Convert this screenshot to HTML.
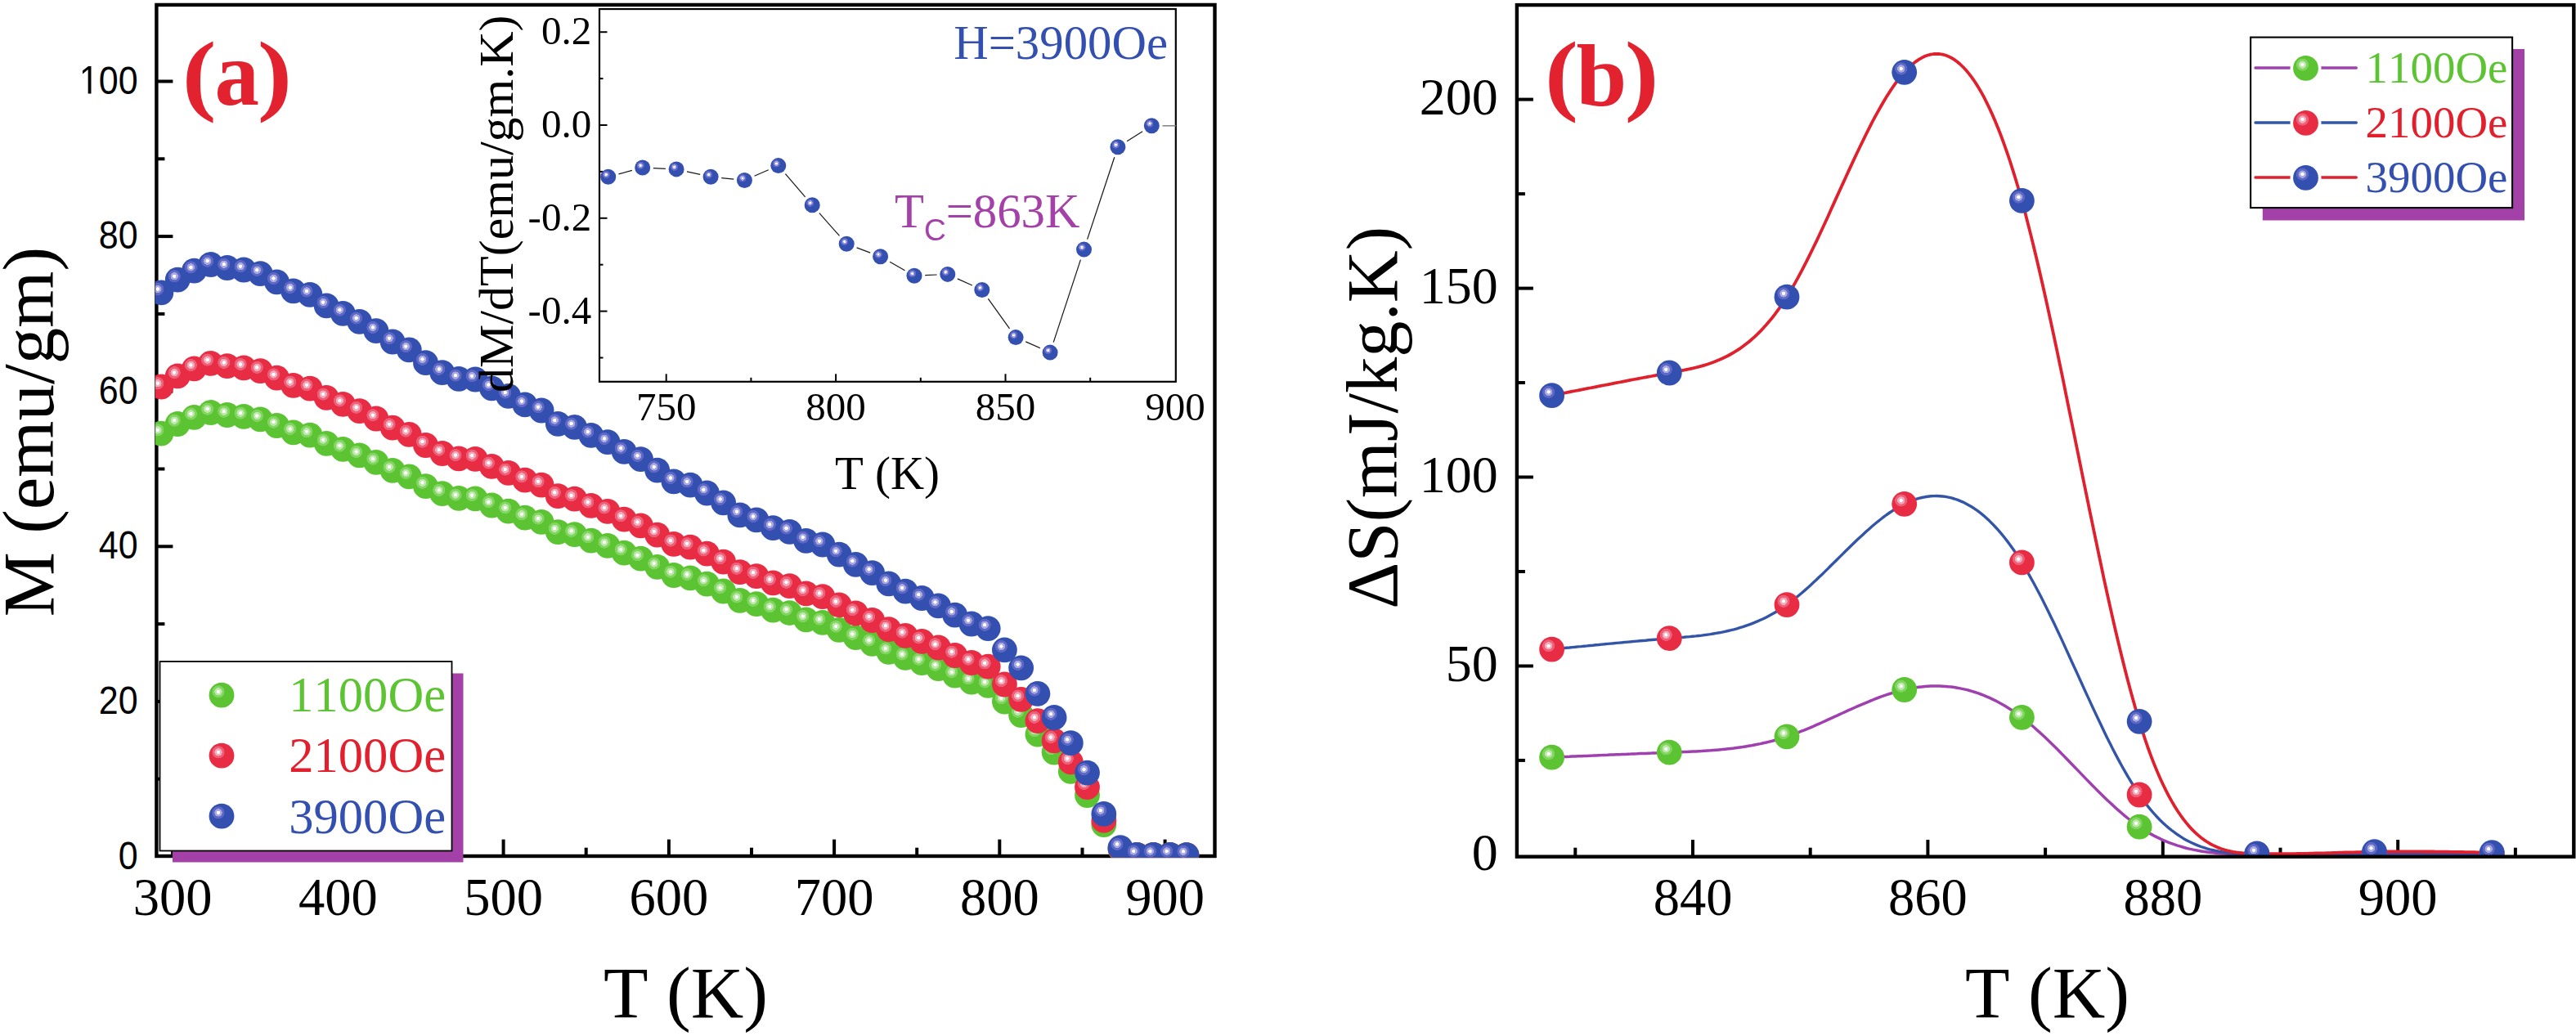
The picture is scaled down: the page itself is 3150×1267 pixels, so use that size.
<!DOCTYPE html>
<html><head><meta charset="utf-8"><title>chart</title>
<style>html,body{margin:0;padding:0;background:#fff;}svg{display:block;}text{font-kerning:none;}</style></head>
<body>
<svg width="3150" height="1267" viewBox="0 0 3150 1267">
<defs>
<radialGradient id="gb" cx="0.37" cy="0.36" r="0.5" fx="0.37" fy="0.36" gradientUnits="objectBoundingBox">
<stop offset="0" stop-color="#ffffff"/><stop offset="0.13" stop-color="#ffffff"/>
<stop offset="0.15" stop-color="#aaaae2"/><stop offset="0.29" stop-color="#aaaae2"/>
<stop offset="0.31" stop-color="#6068c6"/><stop offset="0.47" stop-color="#6068c6"/>
<stop offset="0.50" stop-color="#3350b0"/><stop offset="1" stop-color="#3350b0"/>
</radialGradient>
<radialGradient id="gr" cx="0.37" cy="0.36" r="0.5" fx="0.37" fy="0.36" gradientUnits="objectBoundingBox">
<stop offset="0" stop-color="#ffffff"/><stop offset="0.13" stop-color="#ffffff"/>
<stop offset="0.15" stop-color="#f5aaba"/><stop offset="0.29" stop-color="#f5aaba"/>
<stop offset="0.31" stop-color="#ec6079"/><stop offset="0.47" stop-color="#ec6079"/>
<stop offset="0.50" stop-color="#e82c44"/><stop offset="1" stop-color="#e82c44"/>
</radialGradient>
<radialGradient id="gg" cx="0.37" cy="0.36" r="0.5" fx="0.37" fy="0.36" gradientUnits="objectBoundingBox">
<stop offset="0" stop-color="#ffffff"/><stop offset="0.13" stop-color="#ffffff"/>
<stop offset="0.15" stop-color="#bce9a8"/><stop offset="0.29" stop-color="#bce9a8"/>
<stop offset="0.31" stop-color="#82d562"/><stop offset="0.47" stop-color="#82d562"/>
<stop offset="0.50" stop-color="#5cc432"/><stop offset="1" stop-color="#5cc432"/>
</radialGradient>
<clipPath id="clipA"><rect x="189.8" y="0" width="1305" height="1048.8"/></clipPath>
<clipPath id="clipB"><rect x="1853" y="0" width="1297" height="1046"/></clipPath>
<clipPath id="clipI"><rect x="733" y="9" width="704" height="456"/></clipPath>
</defs>
<rect width="3150" height="1267" fill="#ffffff"/>
<rect x="191.4" y="5.95" width="1294.1" height="1041.05" fill="none" stroke="#000" stroke-width="4.4"/>
<line x1="191.4" y1="952.7" x2="201.4" y2="952.7" stroke="#000" stroke-width="4"/>
<line x1="191.4" y1="857.9" x2="211.4" y2="857.9" stroke="#000" stroke-width="4"/>
<line x1="191.4" y1="763.1" x2="201.4" y2="763.1" stroke="#000" stroke-width="4"/>
<line x1="191.4" y1="668.3" x2="211.4" y2="668.3" stroke="#000" stroke-width="4"/>
<line x1="191.4" y1="573.5" x2="201.4" y2="573.5" stroke="#000" stroke-width="4"/>
<line x1="191.4" y1="478.7" x2="211.4" y2="478.7" stroke="#000" stroke-width="4"/>
<line x1="191.4" y1="383.9" x2="201.4" y2="383.9" stroke="#000" stroke-width="4"/>
<line x1="191.4" y1="289.1" x2="211.4" y2="289.1" stroke="#000" stroke-width="4"/>
<line x1="191.4" y1="194.3" x2="201.4" y2="194.3" stroke="#000" stroke-width="4"/>
<line x1="191.4" y1="99.5" x2="211.4" y2="99.5" stroke="#000" stroke-width="4"/>
<g transform="translate(168.6,1062.5) scale(1,1.134)"><text x="0" y="0" font-family='"Liberation Sans", sans-serif' font-size="43" fill="#000" text-anchor="end" font-weight="normal" >0</text></g>
<g transform="translate(168.6,872.9) scale(1,1.134)"><text x="0" y="0" font-family='"Liberation Sans", sans-serif' font-size="43" fill="#000" text-anchor="end" font-weight="normal" >20</text></g>
<g transform="translate(168.6,683.3) scale(1,1.134)"><text x="0" y="0" font-family='"Liberation Sans", sans-serif' font-size="43" fill="#000" text-anchor="end" font-weight="normal" >40</text></g>
<g transform="translate(168.6,493.7) scale(1,1.134)"><text x="0" y="0" font-family='"Liberation Sans", sans-serif' font-size="43" fill="#000" text-anchor="end" font-weight="normal" >60</text></g>
<g transform="translate(168.6,304.1) scale(1,1.134)"><text x="0" y="0" font-family='"Liberation Sans", sans-serif' font-size="43" fill="#000" text-anchor="end" font-weight="normal" >80</text></g>
<path transform="translate(96.86,114.5) scale(0.02100,-0.02381)" d="M515 0V1237L197 1010V1180L530 1409H696V0Z" fill="#000"/>
<g transform="translate(168.6,114.5) scale(1,1.134)"><text x="0" y="0" font-family='"Liberation Sans", sans-serif' font-size="43" fill="#000" text-anchor="end" font-weight="normal" >00</text></g>
<line x1="211.1" y1="1047" x2="211.1" y2="1026.6" stroke="#000" stroke-width="4"/>
<line x1="312.2" y1="1047" x2="312.2" y2="1036.7" stroke="#000" stroke-width="4"/>
<line x1="413.4" y1="1047" x2="413.4" y2="1026.6" stroke="#000" stroke-width="4"/>
<line x1="514.5" y1="1047" x2="514.5" y2="1036.7" stroke="#000" stroke-width="4"/>
<line x1="615.6" y1="1047" x2="615.6" y2="1026.6" stroke="#000" stroke-width="4"/>
<line x1="716.7" y1="1047" x2="716.7" y2="1036.7" stroke="#000" stroke-width="4"/>
<line x1="817.9" y1="1047" x2="817.9" y2="1026.6" stroke="#000" stroke-width="4"/>
<line x1="919.0" y1="1047" x2="919.0" y2="1036.7" stroke="#000" stroke-width="4"/>
<line x1="1020.1" y1="1047" x2="1020.1" y2="1026.6" stroke="#000" stroke-width="4"/>
<line x1="1121.2" y1="1047" x2="1121.2" y2="1036.7" stroke="#000" stroke-width="4"/>
<line x1="1222.3" y1="1047" x2="1222.3" y2="1026.6" stroke="#000" stroke-width="4"/>
<line x1="1323.5" y1="1047" x2="1323.5" y2="1036.7" stroke="#000" stroke-width="4"/>
<line x1="1424.6" y1="1047" x2="1424.6" y2="1026.6" stroke="#000" stroke-width="4"/>
<text x="211.1" y="1118.5" font-family='"Liberation Serif", serif' font-size="64.5" fill="#000" text-anchor="middle" font-weight="normal" >300</text>
<text x="413.4" y="1118.5" font-family='"Liberation Serif", serif' font-size="64.5" fill="#000" text-anchor="middle" font-weight="normal" >400</text>
<text x="615.6" y="1118.5" font-family='"Liberation Serif", serif' font-size="64.5" fill="#000" text-anchor="middle" font-weight="normal" >500</text>
<text x="817.9" y="1118.5" font-family='"Liberation Serif", serif' font-size="64.5" fill="#000" text-anchor="middle" font-weight="normal" >600</text>
<text x="1020.1" y="1118.5" font-family='"Liberation Serif", serif' font-size="64.5" fill="#000" text-anchor="middle" font-weight="normal" >700</text>
<text x="1222.3" y="1118.5" font-family='"Liberation Serif", serif' font-size="64.5" fill="#000" text-anchor="middle" font-weight="normal" >800</text>
<text x="1424.6" y="1118.5" font-family='"Liberation Serif", serif' font-size="64.5" fill="#000" text-anchor="middle" font-weight="normal" >900</text>
<text x="838.5" y="1243.5" font-family='"Liberation Serif", serif' font-size="89.3" fill="#000" text-anchor="middle" font-weight="normal" >T (K)</text>
<g transform="translate(65,528) rotate(-90)"><text x="0" y="0" font-family='"Liberation Serif", serif' font-size="89" fill="#000" text-anchor="middle" font-weight="normal" >M (emu/gm)</text></g>
<text transform="matrix(1.25437 0 0 1.09421 222.67 127.45)" font-family='"Liberation Serif", serif' font-size="100" font-weight="bold" fill="#e2222e">(</text>
<text transform="matrix(1.08950 0 0 1.12500 262.56 128.18)" font-family='"Liberation Serif", serif' font-size="100" font-weight="bold" fill="#e2222e">a</text>
<text transform="matrix(1.27379 0 0 1.09421 314.66 127.45)" font-family='"Liberation Serif", serif' font-size="100" font-weight="bold" fill="#e2222e">)</text>
<g clip-path="url(#clipA)">
<circle cx="196.9" cy="530.2" r="15.4" fill="url(#gg)"/>
<circle cx="217.2" cy="518.5" r="15.4" fill="url(#gg)"/>
<circle cx="237.4" cy="510.3" r="15.4" fill="url(#gg)"/>
<circle cx="257.6" cy="504.5" r="15.4" fill="url(#gg)"/>
<circle cx="277.8" cy="507.5" r="15.4" fill="url(#gg)"/>
<circle cx="298.1" cy="509.4" r="15.4" fill="url(#gg)"/>
<circle cx="318.3" cy="512.8" r="15.4" fill="url(#gg)"/>
<circle cx="338.5" cy="520.5" r="15.4" fill="url(#gg)"/>
<circle cx="358.7" cy="528.8" r="15.4" fill="url(#gg)"/>
<circle cx="379.0" cy="532.1" r="15.4" fill="url(#gg)"/>
<circle cx="399.2" cy="542.3" r="15.4" fill="url(#gg)"/>
<circle cx="419.4" cy="549.4" r="15.4" fill="url(#gg)"/>
<circle cx="439.6" cy="556.8" r="15.4" fill="url(#gg)"/>
<circle cx="459.9" cy="565.4" r="15.4" fill="url(#gg)"/>
<circle cx="480.1" cy="575.4" r="15.4" fill="url(#gg)"/>
<circle cx="500.3" cy="582.8" r="15.4" fill="url(#gg)"/>
<circle cx="520.5" cy="594.7" r="15.4" fill="url(#gg)"/>
<circle cx="540.8" cy="603.7" r="15.4" fill="url(#gg)"/>
<circle cx="561.0" cy="609.4" r="15.4" fill="url(#gg)"/>
<circle cx="581.2" cy="609.9" r="15.4" fill="url(#gg)"/>
<circle cx="601.4" cy="618.0" r="15.4" fill="url(#gg)"/>
<circle cx="621.7" cy="625.2" r="15.4" fill="url(#gg)"/>
<circle cx="641.9" cy="633.1" r="15.4" fill="url(#gg)"/>
<circle cx="662.1" cy="638.4" r="15.4" fill="url(#gg)"/>
<circle cx="682.3" cy="650.6" r="15.4" fill="url(#gg)"/>
<circle cx="702.6" cy="653.7" r="15.4" fill="url(#gg)"/>
<circle cx="722.8" cy="661.1" r="15.4" fill="url(#gg)"/>
<circle cx="743.0" cy="667.4" r="15.4" fill="url(#gg)"/>
<circle cx="763.2" cy="676.2" r="15.4" fill="url(#gg)"/>
<circle cx="783.5" cy="683.1" r="15.4" fill="url(#gg)"/>
<circle cx="803.7" cy="693.3" r="15.4" fill="url(#gg)"/>
<circle cx="823.9" cy="703.5" r="15.4" fill="url(#gg)"/>
<circle cx="844.1" cy="706.8" r="15.4" fill="url(#gg)"/>
<circle cx="864.4" cy="714.1" r="15.4" fill="url(#gg)"/>
<circle cx="884.6" cy="723.0" r="15.4" fill="url(#gg)"/>
<circle cx="904.8" cy="734.3" r="15.4" fill="url(#gg)"/>
<circle cx="925.0" cy="738.7" r="15.4" fill="url(#gg)"/>
<circle cx="945.3" cy="746.1" r="15.4" fill="url(#gg)"/>
<circle cx="965.5" cy="749.6" r="15.4" fill="url(#gg)"/>
<circle cx="985.7" cy="757.9" r="15.4" fill="url(#gg)"/>
<circle cx="1005.9" cy="761.4" r="15.4" fill="url(#gg)"/>
<circle cx="1026.2" cy="770.4" r="15.4" fill="url(#gg)"/>
<circle cx="1046.4" cy="779.7" r="15.4" fill="url(#gg)"/>
<circle cx="1066.6" cy="787.3" r="15.4" fill="url(#gg)"/>
<circle cx="1086.8" cy="797.3" r="15.4" fill="url(#gg)"/>
<circle cx="1107.1" cy="804.3" r="15.4" fill="url(#gg)"/>
<circle cx="1127.3" cy="810.5" r="15.4" fill="url(#gg)"/>
<circle cx="1147.5" cy="817.5" r="15.4" fill="url(#gg)"/>
<circle cx="1167.7" cy="826.0" r="15.4" fill="url(#gg)"/>
<circle cx="1188.0" cy="834.1" r="15.4" fill="url(#gg)"/>
<circle cx="1208.2" cy="838.3" r="15.4" fill="url(#gg)"/>
<circle cx="1228.4" cy="858.0" r="15.4" fill="url(#gg)"/>
<circle cx="1248.6" cy="874.5" r="15.4" fill="url(#gg)"/>
<circle cx="1268.9" cy="898.1" r="15.4" fill="url(#gg)"/>
<circle cx="1289.1" cy="920.0" r="15.4" fill="url(#gg)"/>
<circle cx="1309.3" cy="943.4" r="15.4" fill="url(#gg)"/>
<circle cx="1329.5" cy="972.6" r="15.4" fill="url(#gg)"/>
<circle cx="1349.8" cy="1008.6" r="15.4" fill="url(#gg)"/>
<circle cx="1370.0" cy="1038.5" r="15.4" fill="url(#gg)"/>
<circle cx="1390.2" cy="1045.3" r="15.4" fill="url(#gg)"/>
<circle cx="1410.4" cy="1045.3" r="15.4" fill="url(#gg)"/>
<circle cx="1430.7" cy="1045.3" r="15.4" fill="url(#gg)"/>
<circle cx="1450.9" cy="1045.6" r="15.4" fill="url(#gg)"/>
<circle cx="196.9" cy="473.0" r="15.4" fill="url(#gr)"/>
<circle cx="217.2" cy="459.9" r="15.4" fill="url(#gr)"/>
<circle cx="237.4" cy="450.8" r="15.4" fill="url(#gr)"/>
<circle cx="257.6" cy="444.4" r="15.4" fill="url(#gr)"/>
<circle cx="277.8" cy="447.7" r="15.4" fill="url(#gr)"/>
<circle cx="298.1" cy="449.8" r="15.4" fill="url(#gr)"/>
<circle cx="318.3" cy="453.7" r="15.4" fill="url(#gr)"/>
<circle cx="338.5" cy="462.2" r="15.4" fill="url(#gr)"/>
<circle cx="358.7" cy="471.4" r="15.4" fill="url(#gr)"/>
<circle cx="379.0" cy="475.1" r="15.4" fill="url(#gr)"/>
<circle cx="399.2" cy="486.4" r="15.4" fill="url(#gr)"/>
<circle cx="419.4" cy="494.3" r="15.4" fill="url(#gr)"/>
<circle cx="439.6" cy="502.6" r="15.4" fill="url(#gr)"/>
<circle cx="459.9" cy="512.0" r="15.4" fill="url(#gr)"/>
<circle cx="480.1" cy="523.1" r="15.4" fill="url(#gr)"/>
<circle cx="500.3" cy="531.4" r="15.4" fill="url(#gr)"/>
<circle cx="520.5" cy="544.5" r="15.4" fill="url(#gr)"/>
<circle cx="540.8" cy="554.5" r="15.4" fill="url(#gr)"/>
<circle cx="561.0" cy="560.9" r="15.4" fill="url(#gr)"/>
<circle cx="581.2" cy="561.4" r="15.4" fill="url(#gr)"/>
<circle cx="601.4" cy="570.4" r="15.4" fill="url(#gr)"/>
<circle cx="621.7" cy="578.4" r="15.4" fill="url(#gr)"/>
<circle cx="641.9" cy="587.2" r="15.4" fill="url(#gr)"/>
<circle cx="662.1" cy="593.1" r="15.4" fill="url(#gr)"/>
<circle cx="682.3" cy="606.7" r="15.4" fill="url(#gr)"/>
<circle cx="702.6" cy="610.1" r="15.4" fill="url(#gr)"/>
<circle cx="722.8" cy="618.3" r="15.4" fill="url(#gr)"/>
<circle cx="743.0" cy="625.3" r="15.4" fill="url(#gr)"/>
<circle cx="763.2" cy="635.1" r="15.4" fill="url(#gr)"/>
<circle cx="783.5" cy="642.8" r="15.4" fill="url(#gr)"/>
<circle cx="803.7" cy="654.1" r="15.4" fill="url(#gr)"/>
<circle cx="823.9" cy="665.4" r="15.4" fill="url(#gr)"/>
<circle cx="844.1" cy="669.1" r="15.4" fill="url(#gr)"/>
<circle cx="864.4" cy="677.2" r="15.4" fill="url(#gr)"/>
<circle cx="884.6" cy="687.1" r="15.4" fill="url(#gr)"/>
<circle cx="904.8" cy="699.6" r="15.4" fill="url(#gr)"/>
<circle cx="925.0" cy="704.6" r="15.4" fill="url(#gr)"/>
<circle cx="945.3" cy="712.8" r="15.4" fill="url(#gr)"/>
<circle cx="965.5" cy="716.6" r="15.4" fill="url(#gr)"/>
<circle cx="985.7" cy="725.9" r="15.4" fill="url(#gr)"/>
<circle cx="1005.9" cy="729.7" r="15.4" fill="url(#gr)"/>
<circle cx="1026.2" cy="739.8" r="15.4" fill="url(#gr)"/>
<circle cx="1046.4" cy="750.0" r="15.4" fill="url(#gr)"/>
<circle cx="1066.6" cy="758.5" r="15.4" fill="url(#gr)"/>
<circle cx="1086.8" cy="769.6" r="15.4" fill="url(#gr)"/>
<circle cx="1107.1" cy="777.4" r="15.4" fill="url(#gr)"/>
<circle cx="1127.3" cy="784.3" r="15.4" fill="url(#gr)"/>
<circle cx="1147.5" cy="792.0" r="15.4" fill="url(#gr)"/>
<circle cx="1167.7" cy="801.5" r="15.4" fill="url(#gr)"/>
<circle cx="1188.0" cy="810.5" r="15.4" fill="url(#gr)"/>
<circle cx="1208.2" cy="815.2" r="15.4" fill="url(#gr)"/>
<circle cx="1228.4" cy="837.0" r="15.4" fill="url(#gr)"/>
<circle cx="1248.6" cy="855.3" r="15.4" fill="url(#gr)"/>
<circle cx="1268.9" cy="881.6" r="15.4" fill="url(#gr)"/>
<circle cx="1289.1" cy="905.9" r="15.4" fill="url(#gr)"/>
<circle cx="1309.3" cy="931.9" r="15.4" fill="url(#gr)"/>
<circle cx="1329.5" cy="962.7" r="15.4" fill="url(#gr)"/>
<circle cx="1349.8" cy="1003.4" r="15.4" fill="url(#gr)"/>
<circle cx="1370.0" cy="1038.0" r="15.4" fill="url(#gr)"/>
<circle cx="1390.2" cy="1045.3" r="15.4" fill="url(#gr)"/>
<circle cx="1410.4" cy="1045.3" r="15.4" fill="url(#gr)"/>
<circle cx="1430.7" cy="1045.3" r="15.4" fill="url(#gr)"/>
<circle cx="1450.9" cy="1045.6" r="15.4" fill="url(#gr)"/>
<circle cx="196.9" cy="357.8" r="15.4" fill="url(#gb)"/>
<circle cx="217.2" cy="342.1" r="15.4" fill="url(#gb)"/>
<circle cx="237.4" cy="331.2" r="15.4" fill="url(#gb)"/>
<circle cx="257.6" cy="323.5" r="15.4" fill="url(#gb)"/>
<circle cx="277.8" cy="327.5" r="15.4" fill="url(#gb)"/>
<circle cx="298.1" cy="330.0" r="15.4" fill="url(#gb)"/>
<circle cx="318.3" cy="334.6" r="15.4" fill="url(#gb)"/>
<circle cx="338.5" cy="344.8" r="15.4" fill="url(#gb)"/>
<circle cx="358.7" cy="355.9" r="15.4" fill="url(#gb)"/>
<circle cx="379.0" cy="360.3" r="15.4" fill="url(#gb)"/>
<circle cx="399.2" cy="373.9" r="15.4" fill="url(#gb)"/>
<circle cx="419.4" cy="383.4" r="15.4" fill="url(#gb)"/>
<circle cx="439.6" cy="393.3" r="15.4" fill="url(#gb)"/>
<circle cx="459.9" cy="404.7" r="15.4" fill="url(#gb)"/>
<circle cx="480.1" cy="418.0" r="15.4" fill="url(#gb)"/>
<circle cx="500.3" cy="427.9" r="15.4" fill="url(#gb)"/>
<circle cx="520.5" cy="443.7" r="15.4" fill="url(#gb)"/>
<circle cx="540.8" cy="455.7" r="15.4" fill="url(#gb)"/>
<circle cx="561.0" cy="463.4" r="15.4" fill="url(#gb)"/>
<circle cx="581.2" cy="464.0" r="15.4" fill="url(#gb)"/>
<circle cx="601.4" cy="474.8" r="15.4" fill="url(#gb)"/>
<circle cx="621.7" cy="484.4" r="15.4" fill="url(#gb)"/>
<circle cx="641.9" cy="494.9" r="15.4" fill="url(#gb)"/>
<circle cx="662.1" cy="502.0" r="15.4" fill="url(#gb)"/>
<circle cx="682.3" cy="518.3" r="15.4" fill="url(#gb)"/>
<circle cx="702.6" cy="522.4" r="15.4" fill="url(#gb)"/>
<circle cx="722.8" cy="532.3" r="15.4" fill="url(#gb)"/>
<circle cx="743.0" cy="540.7" r="15.4" fill="url(#gb)"/>
<circle cx="763.2" cy="552.4" r="15.4" fill="url(#gb)"/>
<circle cx="783.5" cy="561.7" r="15.4" fill="url(#gb)"/>
<circle cx="803.7" cy="575.2" r="15.4" fill="url(#gb)"/>
<circle cx="823.9" cy="588.8" r="15.4" fill="url(#gb)"/>
<circle cx="844.1" cy="593.2" r="15.4" fill="url(#gb)"/>
<circle cx="864.4" cy="603.0" r="15.4" fill="url(#gb)"/>
<circle cx="884.6" cy="614.8" r="15.4" fill="url(#gb)"/>
<circle cx="904.8" cy="629.9" r="15.4" fill="url(#gb)"/>
<circle cx="925.0" cy="635.8" r="15.4" fill="url(#gb)"/>
<circle cx="945.3" cy="645.7" r="15.4" fill="url(#gb)"/>
<circle cx="965.5" cy="650.3" r="15.4" fill="url(#gb)"/>
<circle cx="985.7" cy="661.4" r="15.4" fill="url(#gb)"/>
<circle cx="1005.9" cy="666.0" r="15.4" fill="url(#gb)"/>
<circle cx="1026.2" cy="678.1" r="15.4" fill="url(#gb)"/>
<circle cx="1046.4" cy="690.4" r="15.4" fill="url(#gb)"/>
<circle cx="1066.6" cy="700.6" r="15.4" fill="url(#gb)"/>
<circle cx="1086.8" cy="713.9" r="15.4" fill="url(#gb)"/>
<circle cx="1107.1" cy="723.2" r="15.4" fill="url(#gb)"/>
<circle cx="1127.3" cy="731.5" r="15.4" fill="url(#gb)"/>
<circle cx="1147.5" cy="740.8" r="15.4" fill="url(#gb)"/>
<circle cx="1167.7" cy="752.2" r="15.4" fill="url(#gb)"/>
<circle cx="1188.0" cy="763.0" r="15.4" fill="url(#gb)"/>
<circle cx="1208.2" cy="768.6" r="15.4" fill="url(#gb)"/>
<circle cx="1228.4" cy="794.8" r="15.4" fill="url(#gb)"/>
<circle cx="1248.6" cy="816.8" r="15.4" fill="url(#gb)"/>
<circle cx="1268.9" cy="848.3" r="15.4" fill="url(#gb)"/>
<circle cx="1289.1" cy="877.5" r="15.4" fill="url(#gb)"/>
<circle cx="1309.3" cy="908.7" r="15.4" fill="url(#gb)"/>
<circle cx="1329.5" cy="945.1" r="15.4" fill="url(#gb)"/>
<circle cx="1349.8" cy="995.4" r="15.4" fill="url(#gb)"/>
<circle cx="1370.0" cy="1036.7" r="15.4" fill="url(#gb)"/>
<circle cx="1390.2" cy="1045.3" r="15.4" fill="url(#gb)"/>
<circle cx="1410.4" cy="1045.3" r="15.4" fill="url(#gb)"/>
<circle cx="1430.7" cy="1045.3" r="15.4" fill="url(#gb)"/>
<circle cx="1450.9" cy="1045.6" r="15.4" fill="url(#gb)"/>
</g>
<rect x="211" y="823.5" width="355.5" height="231" fill="#a341a8"/>
<rect x="195.5" y="809" width="357" height="231.5" fill="#fff" stroke="#000" stroke-width="1.8"/>
<circle cx="271.0" cy="850.2" r="15.4" fill="url(#gg)"/>
<text x="353.2" y="869.6" font-family='"Liberation Serif", serif' font-size="60.6" fill="#5cc432" text-anchor="start" font-weight="normal" >1100Oe</text>
<circle cx="271.0" cy="924.2" r="15.4" fill="url(#gr)"/>
<text x="353.2" y="944.1" font-family='"Liberation Serif", serif' font-size="60.6" fill="#e21f2d" text-anchor="start" font-weight="normal" >2100Oe</text>
<circle cx="271.0" cy="998.2" r="15.4" fill="url(#gb)"/>
<text x="353.2" y="1018.5" font-family='"Liberation Serif", serif' font-size="60.6" fill="#3350b0" text-anchor="start" font-weight="normal" >3900Oe</text>
<rect x="733" y="11.05" width="704.8" height="455.75" fill="#fff" stroke="#000" stroke-width="2.2"/>
<line x1="814.7" y1="466.8" x2="814.7" y2="457.3" stroke="#000" stroke-width="2"/>
<line x1="918.4" y1="466.8" x2="918.4" y2="461.8" stroke="#000" stroke-width="2"/>
<line x1="1022.1" y1="466.8" x2="1022.1" y2="457.3" stroke="#000" stroke-width="2"/>
<line x1="1125.8" y1="466.8" x2="1125.8" y2="461.8" stroke="#000" stroke-width="2"/>
<line x1="1229.5" y1="466.8" x2="1229.5" y2="457.3" stroke="#000" stroke-width="2"/>
<line x1="1333.2" y1="466.8" x2="1333.2" y2="461.8" stroke="#000" stroke-width="2"/>
<line x1="733" y1="437.5" x2="737.5" y2="437.5" stroke="#000" stroke-width="2"/>
<line x1="733" y1="380.6" x2="742.5" y2="380.6" stroke="#000" stroke-width="2"/>
<line x1="733" y1="323.7" x2="737.5" y2="323.7" stroke="#000" stroke-width="2"/>
<line x1="733" y1="266.8" x2="742.5" y2="266.8" stroke="#000" stroke-width="2"/>
<line x1="733" y1="209.9" x2="737.5" y2="209.9" stroke="#000" stroke-width="2"/>
<line x1="733" y1="153.0" x2="742.5" y2="153.0" stroke="#000" stroke-width="2"/>
<line x1="733" y1="96.1" x2="737.5" y2="96.1" stroke="#000" stroke-width="2"/>
<line x1="733" y1="39.2" x2="742.5" y2="39.2" stroke="#000" stroke-width="2"/>
<text x="723.2" y="54.1" font-family='"Liberation Serif", serif' font-size="49" fill="#000" text-anchor="end" font-weight="normal" >0.2</text>
<text x="723.2" y="167.9" font-family='"Liberation Serif", serif' font-size="49" fill="#000" text-anchor="end" font-weight="normal" >0.0</text>
<text x="723.2" y="281.7" font-family='"Liberation Serif", serif' font-size="49" fill="#000" text-anchor="end" font-weight="normal" >-0.2</text>
<text x="723.2" y="395.5" font-family='"Liberation Serif", serif' font-size="49" fill="#000" text-anchor="end" font-weight="normal" >-0.4</text>
<text x="814.7" y="514.4" font-family='"Liberation Serif", serif' font-size="49" fill="#000" text-anchor="middle" font-weight="normal" >750</text>
<text x="1022.1" y="514.4" font-family='"Liberation Serif", serif' font-size="49" fill="#000" text-anchor="middle" font-weight="normal" >800</text>
<text x="1229.5" y="514.4" font-family='"Liberation Serif", serif' font-size="49" fill="#000" text-anchor="middle" font-weight="normal" >850</text>
<text x="1436.9" y="514.4" font-family='"Liberation Serif", serif' font-size="49" fill="#000" text-anchor="middle" font-weight="normal" >900</text>
<text x="1085" y="598" font-family='"Liberation Serif", serif' font-size="57" fill="#000" text-anchor="middle" font-weight="normal" >T (K)</text>
<g transform="translate(626.5,249.2) rotate(-90)"><text x="0" y="0" font-family='"Liberation Serif", serif' font-size="60" fill="#000" text-anchor="middle" font-weight="normal" >dM/dT(emu/gm.K)</text></g>
<path d="M756.5,212.8 L772.9,208.4 M798.9,205.6 L813.9,206.3 M840.0,209.8 L856.2,213.3 M882.2,217.6 L897.3,219.1 M922.5,215.3 L939.7,207.8 M960.4,212.6 L984.6,240.8 M1001.9,260.7 L1026.5,288.4 M1047.6,302.9 L1064.2,309.2 M1088.1,320.3 L1106.5,330.7 M1131.2,336.6 L1145.6,336.0 M1170.8,340.9 L1188.8,349.0 M1208.4,365.3 L1234.5,401.8 M1254.2,417.9 L1272.0,425.8 M1288.2,418.6 L1321.4,317.6 M1329.6,292.6 L1362.8,192.2 M1378.1,172.7 L1397.1,160.8" fill="none" stroke="#1a1a1a" stroke-width="1.25"/>
<line x1="1421.5" y1="153.8" x2="1437.8" y2="153.8" stroke="#888" stroke-width="1.6"/>
<circle cx="743.7" cy="216.2" r="9.5" fill="url(#gb)"/>
<circle cx="785.7" cy="205.0" r="9.5" fill="url(#gb)"/>
<circle cx="827.1" cy="206.9" r="9.5" fill="url(#gb)"/>
<circle cx="869.1" cy="216.2" r="9.5" fill="url(#gb)"/>
<circle cx="910.4" cy="220.5" r="9.5" fill="url(#gb)"/>
<circle cx="951.8" cy="202.6" r="9.5" fill="url(#gb)"/>
<circle cx="993.2" cy="250.8" r="9.5" fill="url(#gb)"/>
<circle cx="1035.2" cy="298.3" r="9.5" fill="url(#gb)"/>
<circle cx="1076.6" cy="313.8" r="9.5" fill="url(#gb)"/>
<circle cx="1118.0" cy="337.2" r="9.5" fill="url(#gb)"/>
<circle cx="1158.8" cy="335.4" r="9.5" fill="url(#gb)"/>
<circle cx="1200.8" cy="354.5" r="9.5" fill="url(#gb)"/>
<circle cx="1242.1" cy="412.6" r="9.5" fill="url(#gb)"/>
<circle cx="1284.1" cy="431.1" r="9.5" fill="url(#gb)"/>
<circle cx="1325.5" cy="305.1" r="9.5" fill="url(#gb)"/>
<circle cx="1366.9" cy="179.7" r="9.5" fill="url(#gb)"/>
<circle cx="1408.3" cy="153.8" r="9.5" fill="url(#gb)"/>
<text x="1428" y="71.5" font-family='"Liberation Serif", serif' font-size="58.8" fill="#3350b0" text-anchor="end" font-weight="normal" >H=3900Oe</text>
<text x="1094" y="278" font-family='"Liberation Serif", serif' font-size="58.8" fill="#a341a8">T<tspan font-family='"Liberation Sans", sans-serif' font-size="37" dy="16">C</tspan><tspan dy="-16">=863K</tspan></text>
<line x1="1854.9" y1="929.9" x2="1864.9" y2="929.9" stroke="#000" stroke-width="4"/>
<line x1="1854.9" y1="814.5" x2="1874.9" y2="814.5" stroke="#000" stroke-width="4"/>
<line x1="1854.9" y1="699.0" x2="1864.9" y2="699.0" stroke="#000" stroke-width="4"/>
<line x1="1854.9" y1="583.5" x2="1874.9" y2="583.5" stroke="#000" stroke-width="4"/>
<line x1="1854.9" y1="468.0" x2="1864.9" y2="468.0" stroke="#000" stroke-width="4"/>
<line x1="1854.9" y1="352.6" x2="1874.9" y2="352.6" stroke="#000" stroke-width="4"/>
<line x1="1854.9" y1="237.1" x2="1864.9" y2="237.1" stroke="#000" stroke-width="4"/>
<line x1="1854.9" y1="121.6" x2="1874.9" y2="121.6" stroke="#000" stroke-width="4"/>
<text x="1831.7" y="1063.8" font-family='"Liberation Serif", serif' font-size="64" fill="#000" text-anchor="end" font-weight="normal" >0</text>
<text x="1831.7" y="832.9" font-family='"Liberation Serif", serif' font-size="64" fill="#000" text-anchor="end" font-weight="normal" >50</text>
<text x="1831.7" y="601.9" font-family='"Liberation Serif", serif' font-size="64" fill="#000" text-anchor="end" font-weight="normal" >100</text>
<text x="1831.7" y="371.0" font-family='"Liberation Serif", serif' font-size="64" fill="#000" text-anchor="end" font-weight="normal" >150</text>
<text x="1831.7" y="140.0" font-family='"Liberation Serif", serif' font-size="64" fill="#000" text-anchor="end" font-weight="normal" >200</text>
<line x1="1926.3" y1="1047.7" x2="1926.3" y2="1036.7" stroke="#000" stroke-width="4"/>
<line x1="2070.0" y1="1047.7" x2="2070.0" y2="1027.0" stroke="#000" stroke-width="4"/>
<line x1="2213.7" y1="1047.7" x2="2213.7" y2="1036.7" stroke="#000" stroke-width="4"/>
<line x1="2357.4" y1="1047.7" x2="2357.4" y2="1027.0" stroke="#000" stroke-width="4"/>
<line x1="2501.1" y1="1047.7" x2="2501.1" y2="1036.7" stroke="#000" stroke-width="4"/>
<line x1="2644.8" y1="1047.7" x2="2644.8" y2="1027.0" stroke="#000" stroke-width="4"/>
<line x1="2788.5" y1="1047.7" x2="2788.5" y2="1036.7" stroke="#000" stroke-width="4"/>
<line x1="2932.2" y1="1047.7" x2="2932.2" y2="1027.0" stroke="#000" stroke-width="4"/>
<line x1="3075.9" y1="1047.7" x2="3075.9" y2="1036.7" stroke="#000" stroke-width="4"/>
<text x="2070.0" y="1118.5" font-family='"Liberation Serif", serif' font-size="64.5" fill="#000" text-anchor="middle" font-weight="normal" >840</text>
<text x="2357.4" y="1118.5" font-family='"Liberation Serif", serif' font-size="64.5" fill="#000" text-anchor="middle" font-weight="normal" >860</text>
<text x="2644.8" y="1118.5" font-family='"Liberation Serif", serif' font-size="64.5" fill="#000" text-anchor="middle" font-weight="normal" >880</text>
<text x="2932.2" y="1118.5" font-family='"Liberation Serif", serif' font-size="64.5" fill="#000" text-anchor="middle" font-weight="normal" >900</text>
<text x="2503.5" y="1243.5" font-family='"Liberation Serif", serif' font-size="89.3" fill="#000" text-anchor="middle" font-weight="normal" >T (K)</text>
<g transform="translate(1707.7,510.7) rotate(-90)"><text x="0" y="0" font-family='"Liberation Serif", serif' font-size="88.6" fill="#000" text-anchor="middle" font-weight="normal" >&#916;S(mJ/kg.K)</text></g>
<text transform="matrix(1.22718 0 0 1.09201 1888.88 127.49)" font-family='"Liberation Serif", serif' font-size="100" font-weight="bold" fill="#e2222e">(</text>
<text transform="matrix(1.11244 0 0 1.08369 1927.61 128.92)" font-family='"Liberation Serif", serif' font-size="100" font-weight="bold" fill="#e2222e">b</text>
<text transform="matrix(1.25049 0 0 1.09201 1986.84 127.49)" font-family='"Liberation Serif", serif' font-size="100" font-weight="bold" fill="#e2222e">)</text>
<g clip-path="url(#clipB)">
<path d="M1897.6,926.2 L1901.2,926.1 L1904.7,925.9 L1908.3,925.8 L1911.9,925.6 L1915.5,925.4 L1919.1,925.3 L1922.7,925.1 L1926.3,925.0 L1929.9,924.8 L1933.5,924.7 L1937.1,924.5 L1940.7,924.4 L1944.3,924.2 L1947.9,924.1 L1951.4,923.9 L1955.0,923.7 L1958.6,923.6 L1962.2,923.4 L1965.8,923.3 L1969.4,923.1 L1973.0,923.0 L1976.6,922.8 L1980.2,922.7 L1983.8,922.5 L1987.4,922.4 L1991.0,922.2 L1994.6,922.1 L1998.2,921.9 L2001.7,921.8 L2005.3,921.6 L2008.9,921.5 L2012.5,921.4 L2016.1,921.2 L2019.7,921.1 L2023.3,920.9 L2026.9,920.8 L2030.5,920.6 L2034.1,920.5 L2037.7,920.4 L2041.3,920.2 L2044.9,920.1 L2048.4,919.9 L2052.0,919.8 L2055.6,919.7 L2059.2,919.5 L2062.8,919.4 L2066.4,919.2 L2070.0,919.0 L2073.6,918.9 L2077.2,918.7 L2080.8,918.5 L2084.4,918.2 L2088.0,918.0 L2091.6,917.8 L2095.1,917.5 L2098.7,917.2 L2102.3,916.9 L2105.9,916.6 L2109.5,916.2 L2113.1,915.8 L2116.7,915.4 L2120.3,915.0 L2123.9,914.5 L2127.5,914.0 L2131.1,913.5 L2134.7,912.9 L2138.3,912.3 L2141.8,911.7 L2145.4,911.0 L2149.0,910.3 L2152.6,909.6 L2156.2,908.8 L2159.8,908.0 L2163.4,907.1 L2167.0,906.2 L2170.6,905.2 L2174.2,904.2 L2177.8,903.1 L2181.4,902.0 L2185.0,900.8 L2188.6,899.6 L2192.1,898.3 L2195.7,897.0 L2199.3,895.6 L2202.9,894.2 L2206.5,892.8 L2210.1,891.3 L2213.7,889.8 L2217.3,888.3 L2220.9,886.7 L2224.5,885.1 L2228.1,883.5 L2231.7,881.9 L2235.3,880.2 L2238.8,878.6 L2242.4,876.9 L2246.0,875.3 L2249.6,873.6 L2253.2,872.0 L2256.8,870.3 L2260.4,868.7 L2264.0,867.1 L2267.6,865.5 L2271.2,863.9 L2274.8,862.3 L2278.4,860.8 L2282.0,859.3 L2285.6,857.8 L2289.1,856.3 L2292.7,854.9 L2296.3,853.5 L2299.9,852.2 L2303.5,850.9 L2307.1,849.7 L2310.7,848.5 L2314.3,847.4 L2317.9,846.3 L2321.5,845.3 L2325.1,844.4 L2328.7,843.5 L2332.3,842.8 L2335.8,842.0 L2339.4,841.4 L2343.0,840.8 L2346.6,840.3 L2350.2,839.9 L2353.8,839.6 L2357.4,839.3 L2361.0,839.1 L2364.6,839.0 L2368.2,839.0 L2371.8,839.1 L2375.4,839.2 L2379.0,839.4 L2382.5,839.8 L2386.1,840.1 L2389.7,840.6 L2393.3,841.2 L2396.9,841.9 L2400.5,842.6 L2404.1,843.4 L2407.7,844.3 L2411.3,845.4 L2414.9,846.5 L2418.5,847.7 L2422.1,849.0 L2425.7,850.3 L2429.2,851.8 L2432.8,853.4 L2436.4,855.1 L2440.0,856.8 L2443.6,858.7 L2447.2,860.7 L2450.8,862.7 L2454.4,864.9 L2458.0,867.2 L2461.6,869.5 L2465.2,872.0 L2468.8,874.6 L2472.4,877.3 L2476.0,880.1 L2479.5,882.9 L2483.1,885.9 L2486.7,889.0 L2490.3,892.2 L2493.9,895.4 L2497.5,898.7 L2501.1,902.1 L2504.7,905.5 L2508.3,909.0 L2511.9,912.5 L2515.5,916.1 L2519.1,919.7 L2522.7,923.4 L2526.2,927.0 L2529.8,930.7 L2533.4,934.5 L2537.0,938.2 L2540.6,941.9 L2544.2,945.6 L2547.8,949.4 L2551.4,953.1 L2555.0,956.8 L2558.6,960.4 L2562.2,964.1 L2565.8,967.7 L2569.4,971.2 L2572.9,974.7 L2576.5,978.2 L2580.1,981.6 L2583.7,984.9 L2587.3,988.2 L2590.9,991.4 L2594.5,994.5 L2598.1,997.6 L2601.7,1000.5 L2605.3,1003.3 L2608.9,1006.1 L2612.5,1008.7 L2616.1,1011.2 L2619.7,1013.6 L2623.2,1015.9 L2626.8,1018.1 L2630.4,1020.1 L2634.0,1022.1 L2637.6,1023.9 L2641.2,1025.6 L2644.8,1027.3 L2648.4,1028.8 L2652.0,1030.3 L2655.6,1031.6 L2659.2,1032.9 L2662.8,1034.1 L2666.4,1035.2 L2669.9,1036.2 L2673.5,1037.2 L2677.1,1038.1 L2680.7,1038.9 L2684.3,1039.6 L2687.9,1040.3 L2691.5,1040.9 L2695.1,1041.5 L2698.7,1042.0 L2702.3,1042.4 L2705.9,1042.8 L2709.5,1043.2 L2713.1,1043.5 L2716.7,1043.8 L2720.2,1044.0 L2723.8,1044.2 L2727.4,1044.4 L2731.0,1044.5 L2734.6,1044.6 L2738.2,1044.7 L2741.8,1044.8 L2745.4,1044.8 L2749.0,1044.9 L2752.6,1044.9 L2756.2,1044.9 L2759.8,1044.9 L2763.4,1044.9 L2766.9,1045.0 L2770.5,1045.0 L2774.1,1045.0 L2777.7,1045.0 L2781.3,1045.0 L2784.9,1045.0 L2788.5,1045.0 L2792.1,1045.0 L2795.7,1045.0 L2799.3,1044.9 L2802.9,1044.9 L2806.5,1044.9 L2810.1,1044.9 L2813.6,1044.9 L2817.2,1044.9 L2820.8,1044.9 L2824.4,1044.9 L2828.0,1044.8 L2831.6,1044.8 L2835.2,1044.8 L2838.8,1044.8 L2842.4,1044.8 L2846.0,1044.7 L2849.6,1044.7 L2853.2,1044.7 L2856.8,1044.7 L2860.3,1044.7 L2863.9,1044.7 L2867.5,1044.6 L2871.1,1044.6 L2874.7,1044.6 L2878.3,1044.6 L2881.9,1044.6 L2885.5,1044.5 L2889.1,1044.5 L2892.7,1044.5 L2896.3,1044.5 L2899.9,1044.5 L2903.5,1044.5 L2907.1,1044.5 L2910.6,1044.5 L2914.2,1044.4 L2917.8,1044.4 L2921.4,1044.4 L2925.0,1044.4 L2928.6,1044.4 L2932.2,1044.4 L2935.8,1044.4 L2939.4,1044.4 L2943.0,1044.4 L2946.6,1044.4 L2950.2,1044.4 L2953.8,1044.4 L2957.3,1044.4 L2960.9,1044.4 L2964.5,1044.4 L2968.1,1044.5 L2971.7,1044.5 L2975.3,1044.5 L2978.9,1044.5 L2982.5,1044.5 L2986.1,1044.5 L2989.7,1044.5 L2993.3,1044.5 L2996.9,1044.5 L3000.5,1044.5 L3004.1,1044.5 L3007.6,1044.6 L3011.2,1044.6 L3014.8,1044.6 L3018.4,1044.6 L3022.0,1044.6 L3025.6,1044.6 L3029.2,1044.6 L3032.8,1044.7 L3036.4,1044.7 L3040.0,1044.7 L3043.6,1044.7 L3047.2,1044.7" fill="none" stroke="#a040b0" stroke-width="3.5" stroke-linejoin="round"/>
<path d="M1897.6,794.1 L1901.2,793.8 L1904.7,793.4 L1908.3,793.1 L1911.9,792.7 L1915.5,792.3 L1919.1,792.0 L1922.7,791.6 L1926.3,791.3 L1929.9,790.9 L1933.5,790.6 L1937.1,790.2 L1940.7,789.9 L1944.3,789.5 L1947.9,789.2 L1951.4,788.8 L1955.0,788.5 L1958.6,788.1 L1962.2,787.8 L1965.8,787.4 L1969.4,787.1 L1973.0,786.8 L1976.6,786.4 L1980.2,786.1 L1983.8,785.8 L1987.4,785.4 L1991.0,785.1 L1994.6,784.8 L1998.2,784.4 L2001.7,784.1 L2005.3,783.8 L2008.9,783.5 L2012.5,783.2 L2016.1,782.8 L2019.7,782.5 L2023.3,782.2 L2026.9,781.9 L2030.5,781.6 L2034.1,781.3 L2037.7,781.0 L2041.3,780.7 L2044.9,780.4 L2048.4,780.2 L2052.0,779.9 L2055.6,779.6 L2059.2,779.3 L2062.8,778.9 L2066.4,778.6 L2070.0,778.2 L2073.6,777.9 L2077.2,777.5 L2080.8,777.1 L2084.4,776.6 L2088.0,776.1 L2091.6,775.6 L2095.1,775.0 L2098.7,774.4 L2102.3,773.8 L2105.9,773.1 L2109.5,772.3 L2113.1,771.5 L2116.7,770.7 L2120.3,769.8 L2123.9,768.8 L2127.5,767.7 L2131.1,766.6 L2134.7,765.4 L2138.3,764.2 L2141.8,762.8 L2145.4,761.4 L2149.0,759.9 L2152.6,758.3 L2156.2,756.7 L2159.8,754.9 L2163.4,753.0 L2167.0,751.0 L2170.6,749.0 L2174.2,746.8 L2177.8,744.5 L2181.4,742.1 L2185.0,739.6 L2188.6,737.0 L2192.1,734.3 L2195.7,731.4 L2199.3,728.5 L2202.9,725.5 L2206.5,722.4 L2210.1,719.2 L2213.7,715.9 L2217.3,712.6 L2220.9,709.3 L2224.5,705.8 L2228.1,702.4 L2231.7,698.9 L2235.3,695.4 L2238.8,691.8 L2242.4,688.3 L2246.0,684.7 L2249.6,681.1 L2253.2,677.6 L2256.8,674.0 L2260.4,670.5 L2264.0,667.0 L2267.6,663.5 L2271.2,660.1 L2274.8,656.7 L2278.4,653.4 L2282.0,650.1 L2285.6,646.9 L2289.1,643.8 L2292.7,640.8 L2296.3,637.8 L2299.9,635.0 L2303.5,632.2 L2307.1,629.5 L2310.7,627.0 L2314.3,624.6 L2317.9,622.3 L2321.5,620.2 L2325.1,618.2 L2328.7,616.3 L2332.3,614.6 L2335.8,613.0 L2339.4,611.7 L2343.0,610.4 L2346.6,609.4 L2350.2,608.5 L2353.8,607.8 L2357.4,607.2 L2361.0,606.8 L2364.6,606.6 L2368.2,606.5 L2371.8,606.7 L2375.4,607.0 L2379.0,607.4 L2382.5,608.1 L2386.1,608.9 L2389.7,610.0 L2393.3,611.2 L2396.9,612.6 L2400.5,614.1 L2404.1,615.9 L2407.7,617.9 L2411.3,620.0 L2414.9,622.4 L2418.5,624.9 L2422.1,627.7 L2425.7,630.6 L2429.2,633.8 L2432.8,637.1 L2436.4,640.7 L2440.0,644.5 L2443.6,648.4 L2447.2,652.6 L2450.8,657.0 L2454.4,661.6 L2458.0,666.4 L2461.6,671.5 L2465.2,676.7 L2468.8,682.2 L2472.4,687.9 L2476.0,693.8 L2479.5,699.9 L2483.1,706.3 L2486.7,712.8 L2490.3,719.5 L2493.9,726.3 L2497.5,733.3 L2501.1,740.5 L2504.7,747.8 L2508.3,755.2 L2511.9,762.6 L2515.5,770.2 L2519.1,777.9 L2522.7,785.6 L2526.2,793.4 L2529.8,801.3 L2533.4,809.2 L2537.0,817.0 L2540.6,824.9 L2544.2,832.8 L2547.8,840.7 L2551.4,848.6 L2555.0,856.4 L2558.6,864.2 L2562.2,871.9 L2565.8,879.5 L2569.4,887.1 L2572.9,894.5 L2576.5,901.9 L2580.1,909.1 L2583.7,916.2 L2587.3,923.1 L2590.9,929.9 L2594.5,936.5 L2598.1,942.9 L2601.7,949.2 L2605.3,955.2 L2608.9,961.0 L2612.5,966.6 L2616.1,972.0 L2619.7,977.1 L2623.2,981.9 L2626.8,986.5 L2630.4,990.9 L2634.0,995.0 L2637.6,999.0 L2641.2,1002.7 L2644.8,1006.2 L2648.4,1009.5 L2652.0,1012.6 L2655.6,1015.5 L2659.2,1018.2 L2662.8,1020.8 L2666.4,1023.1 L2669.9,1025.4 L2673.5,1027.4 L2677.1,1029.3 L2680.7,1031.0 L2684.3,1032.6 L2687.9,1034.1 L2691.5,1035.5 L2695.1,1036.7 L2698.7,1037.8 L2702.3,1038.8 L2705.9,1039.6 L2709.5,1040.4 L2713.1,1041.1 L2716.7,1041.7 L2720.2,1042.2 L2723.8,1042.7 L2727.4,1043.1 L2731.0,1043.4 L2734.6,1043.7 L2738.2,1043.9 L2741.8,1044.1 L2745.4,1044.2 L2749.0,1044.3 L2752.6,1044.4 L2756.2,1044.4 L2759.8,1044.5 L2763.4,1044.5 L2766.9,1044.6 L2770.5,1044.6 L2774.1,1044.6 L2777.7,1044.6 L2781.3,1044.6 L2784.9,1044.6 L2788.5,1044.6 L2792.1,1044.6 L2795.7,1044.6 L2799.3,1044.6 L2802.9,1044.6 L2806.5,1044.6 L2810.1,1044.6 L2813.6,1044.5 L2817.2,1044.5 L2820.8,1044.5 L2824.4,1044.4 L2828.0,1044.4 L2831.6,1044.4 L2835.2,1044.3 L2838.8,1044.3 L2842.4,1044.2 L2846.0,1044.2 L2849.6,1044.2 L2853.2,1044.1 L2856.8,1044.1 L2860.3,1044.0 L2863.9,1044.0 L2867.5,1043.9 L2871.1,1043.9 L2874.7,1043.8 L2878.3,1043.8 L2881.9,1043.8 L2885.5,1043.7 L2889.1,1043.7 L2892.7,1043.6 L2896.3,1043.6 L2899.9,1043.6 L2903.5,1043.6 L2907.1,1043.5 L2910.6,1043.5 L2914.2,1043.5 L2917.8,1043.5 L2921.4,1043.5 L2925.0,1043.4 L2928.6,1043.4 L2932.2,1043.4 L2935.8,1043.4 L2939.4,1043.4 L2943.0,1043.4 L2946.6,1043.4 L2950.2,1043.4 L2953.8,1043.4 L2957.3,1043.4 L2960.9,1043.4 L2964.5,1043.5 L2968.1,1043.5 L2971.7,1043.5 L2975.3,1043.5 L2978.9,1043.5 L2982.5,1043.5 L2986.1,1043.5 L2989.7,1043.6 L2993.3,1043.6 L2996.9,1043.6 L3000.5,1043.6 L3004.1,1043.7 L3007.6,1043.7 L3011.2,1043.7 L3014.8,1043.7 L3018.4,1043.8 L3022.0,1043.8 L3025.6,1043.8 L3029.2,1043.9 L3032.8,1043.9 L3036.4,1043.9 L3040.0,1044.0 L3043.6,1044.0 L3047.2,1044.0" fill="none" stroke="#3355a8" stroke-width="3.4" stroke-linejoin="round"/>
<path d="M1897.6,483.7 L1901.2,483.0 L1904.7,482.3 L1908.3,481.6 L1911.9,480.9 L1915.5,480.2 L1919.1,479.4 L1922.7,478.7 L1926.3,478.0 L1929.9,477.3 L1933.5,476.6 L1937.1,475.9 L1940.7,475.2 L1944.3,474.5 L1947.9,473.8 L1951.4,473.1 L1955.0,472.4 L1958.6,471.7 L1962.2,471.0 L1965.8,470.3 L1969.4,469.6 L1973.0,468.9 L1976.6,468.2 L1980.2,467.5 L1983.8,466.8 L1987.4,466.1 L1991.0,465.4 L1994.6,464.7 L1998.2,464.0 L2001.7,463.3 L2005.3,462.7 L2008.9,462.0 L2012.5,461.3 L2016.1,460.6 L2019.7,460.0 L2023.3,459.3 L2026.9,458.6 L2030.5,458.0 L2034.1,457.3 L2037.7,456.7 L2041.3,456.0 L2044.9,455.4 L2048.4,454.7 L2052.0,454.1 L2055.6,453.4 L2059.2,452.7 L2062.8,451.9 L2066.4,451.2 L2070.0,450.4 L2073.6,449.5 L2077.2,448.6 L2080.8,447.6 L2084.4,446.6 L2088.0,445.5 L2091.6,444.3 L2095.1,443.0 L2098.7,441.6 L2102.3,440.1 L2105.9,438.5 L2109.5,436.8 L2113.1,435.0 L2116.7,433.0 L2120.3,430.9 L2123.9,428.7 L2127.5,426.3 L2131.1,423.8 L2134.7,421.1 L2138.3,418.3 L2141.8,415.3 L2145.4,412.1 L2149.0,408.7 L2152.6,405.1 L2156.2,401.3 L2159.8,397.3 L2163.4,393.1 L2167.0,388.7 L2170.6,384.1 L2174.2,379.2 L2177.8,374.1 L2181.4,368.8 L2185.0,363.2 L2188.6,357.3 L2192.1,351.2 L2195.7,344.9 L2199.3,338.4 L2202.9,331.6 L2206.5,324.7 L2210.1,317.6 L2213.7,310.4 L2217.3,303.0 L2220.9,295.6 L2224.5,288.0 L2228.1,280.3 L2231.7,272.5 L2235.3,264.7 L2238.8,256.8 L2242.4,248.9 L2246.0,240.9 L2249.6,233.0 L2253.2,225.1 L2256.8,217.2 L2260.4,209.4 L2264.0,201.6 L2267.6,193.9 L2271.2,186.2 L2274.8,178.7 L2278.4,171.3 L2282.0,164.0 L2285.6,156.9 L2289.1,149.9 L2292.7,143.1 L2296.3,136.6 L2299.9,130.2 L2303.5,124.0 L2307.1,118.1 L2310.7,112.4 L2314.3,107.0 L2317.9,101.9 L2321.5,97.0 L2325.1,92.5 L2328.7,88.3 L2332.3,84.5 L2335.8,81.0 L2339.4,77.9 L2343.0,75.1 L2346.6,72.6 L2350.2,70.6 L2353.8,68.8 L2357.4,67.5 L2361.0,66.6 L2364.6,66.0 L2368.2,65.8 L2371.8,66.0 L2375.4,66.6 L2379.0,67.5 L2382.5,68.9 L2386.1,70.7 L2389.7,72.9 L2393.3,75.5 L2396.9,78.5 L2400.5,82.0 L2404.1,85.8 L2407.7,90.1 L2411.3,94.8 L2414.9,100.0 L2418.5,105.6 L2422.1,111.7 L2425.7,118.2 L2429.2,125.1 L2432.8,132.5 L2436.4,140.4 L2440.0,148.7 L2443.6,157.5 L2447.2,166.8 L2450.8,176.6 L2454.4,186.8 L2458.0,197.5 L2461.6,208.8 L2465.2,220.5 L2468.8,232.7 L2472.4,245.4 L2476.0,258.6 L2479.5,272.3 L2483.1,286.4 L2486.7,301.0 L2490.3,316.0 L2493.9,331.3 L2497.5,347.0 L2501.1,363.0 L2504.7,379.3 L2508.3,395.9 L2511.9,412.7 L2515.5,429.7 L2519.1,446.9 L2522.7,464.2 L2526.2,481.7 L2529.8,499.3 L2533.4,516.9 L2537.0,534.7 L2540.6,552.4 L2544.2,570.1 L2547.8,587.8 L2551.4,605.4 L2555.0,623.0 L2558.6,640.4 L2562.2,657.7 L2565.8,674.9 L2569.4,691.8 L2572.9,708.6 L2576.5,725.0 L2580.1,741.2 L2583.7,757.1 L2587.3,772.7 L2590.9,787.9 L2594.5,802.8 L2598.1,817.2 L2601.7,831.2 L2605.3,844.8 L2608.9,857.8 L2612.5,870.4 L2616.1,882.3 L2619.7,893.8 L2623.2,904.7 L2626.8,915.0 L2630.4,924.8 L2634.0,934.1 L2637.6,942.9 L2641.2,951.2 L2644.8,959.0 L2648.4,966.4 L2652.0,973.4 L2655.6,979.9 L2659.2,986.0 L2662.8,991.7 L2666.4,997.0 L2669.9,1001.9 L2673.5,1006.4 L2677.1,1010.7 L2680.7,1014.6 L2684.3,1018.1 L2687.9,1021.4 L2691.5,1024.4 L2695.1,1027.1 L2698.7,1029.5 L2702.3,1031.7 L2705.9,1033.6 L2709.5,1035.3 L2713.1,1036.9 L2716.7,1038.2 L2720.2,1039.3 L2723.8,1040.3 L2727.4,1041.1 L2731.0,1041.8 L2734.6,1042.4 L2738.2,1042.8 L2741.8,1043.2 L2745.4,1043.5 L2749.0,1043.7 L2752.6,1043.8 L2756.2,1043.9 L2759.8,1044.0 L2763.4,1044.1 L2766.9,1044.1 L2770.5,1044.2 L2774.1,1044.2 L2777.7,1044.2 L2781.3,1044.2 L2784.9,1044.2 L2788.5,1044.2 L2792.1,1044.2 L2795.7,1044.2 L2799.3,1044.2 L2802.9,1044.1 L2806.5,1044.1 L2810.1,1044.0 L2813.6,1043.9 L2817.2,1043.9 L2820.8,1043.8 L2824.4,1043.7 L2828.0,1043.6 L2831.6,1043.5 L2835.2,1043.4 L2838.8,1043.3 L2842.4,1043.3 L2846.0,1043.2 L2849.6,1043.1 L2853.2,1043.0 L2856.8,1042.9 L2860.3,1042.7 L2863.9,1042.6 L2867.5,1042.5 L2871.1,1042.4 L2874.7,1042.4 L2878.3,1042.3 L2881.9,1042.2 L2885.5,1042.1 L2889.1,1042.0 L2892.7,1041.9 L2896.3,1041.8 L2899.9,1041.8 L2903.5,1041.7 L2907.1,1041.6 L2910.6,1041.6 L2914.2,1041.5 L2917.8,1041.5 L2921.4,1041.5 L2925.0,1041.4 L2928.6,1041.4 L2932.2,1041.4 L2935.8,1041.4 L2939.4,1041.4 L2943.0,1041.4 L2946.6,1041.4 L2950.2,1041.4 L2953.8,1041.4 L2957.3,1041.4 L2960.9,1041.4 L2964.5,1041.5 L2968.1,1041.5 L2971.7,1041.5 L2975.3,1041.5 L2978.9,1041.6 L2982.5,1041.6 L2986.1,1041.7 L2989.7,1041.7 L2993.3,1041.7 L2996.9,1041.8 L3000.5,1041.8 L3004.1,1041.9 L3007.6,1041.9 L3011.2,1042.0 L3014.8,1042.1 L3018.4,1042.1 L3022.0,1042.2 L3025.6,1042.2 L3029.2,1042.3 L3032.8,1042.4 L3036.4,1042.4 L3040.0,1042.5 L3043.6,1042.6 L3047.2,1042.6" fill="none" stroke="#e0202c" stroke-width="3.8" stroke-linejoin="round"/>
<circle cx="1897.6" cy="926.2" r="15.4" fill="url(#gg)"/>
<circle cx="2041.3" cy="920.2" r="15.4" fill="url(#gg)"/>
<circle cx="2185.0" cy="900.8" r="15.4" fill="url(#gg)"/>
<circle cx="2328.7" cy="843.5" r="15.4" fill="url(#gg)"/>
<circle cx="2472.4" cy="877.3" r="15.4" fill="url(#gg)"/>
<circle cx="2616.1" cy="1011.2" r="15.4" fill="url(#gg)"/>
<circle cx="2759.8" cy="1044.9" r="15.4" fill="url(#gg)"/>
<circle cx="2903.5" cy="1044.5" r="15.4" fill="url(#gg)"/>
<circle cx="3047.2" cy="1044.7" r="15.4" fill="url(#gg)"/>
<circle cx="1897.6" cy="794.1" r="15.4" fill="url(#gr)"/>
<circle cx="2041.3" cy="780.7" r="15.4" fill="url(#gr)"/>
<circle cx="2185.0" cy="739.6" r="15.4" fill="url(#gr)"/>
<circle cx="2328.7" cy="616.3" r="15.4" fill="url(#gr)"/>
<circle cx="2472.4" cy="687.9" r="15.4" fill="url(#gr)"/>
<circle cx="2616.1" cy="972.0" r="15.4" fill="url(#gr)"/>
<circle cx="2759.8" cy="1044.5" r="15.4" fill="url(#gr)"/>
<circle cx="2903.5" cy="1043.6" r="15.4" fill="url(#gr)"/>
<circle cx="3047.2" cy="1044.0" r="15.4" fill="url(#gr)"/>
<circle cx="1897.6" cy="483.7" r="15.4" fill="url(#gb)"/>
<circle cx="2041.3" cy="456.0" r="15.4" fill="url(#gb)"/>
<circle cx="2185.0" cy="363.2" r="15.4" fill="url(#gb)"/>
<circle cx="2328.7" cy="88.3" r="15.4" fill="url(#gb)"/>
<circle cx="2472.4" cy="245.4" r="15.4" fill="url(#gb)"/>
<circle cx="2616.1" cy="882.3" r="15.4" fill="url(#gb)"/>
<circle cx="2759.8" cy="1044.0" r="15.4" fill="url(#gb)"/>
<circle cx="2903.5" cy="1041.7" r="15.4" fill="url(#gb)"/>
<circle cx="3047.2" cy="1042.6" r="15.4" fill="url(#gb)"/>
</g>
<rect x="1854.9" y="6.1" width="1292.4" height="1041.6000000000001" fill="none" stroke="#000" stroke-width="4.4"/>
<rect x="2766.8" y="60" width="320.2" height="209.5" fill="#a341a8"/>
<rect x="2752.1" y="45.6" width="320" height="208.5" fill="#fff" stroke="#000" stroke-width="2.1"/>
<line x1="2758" y1="83.0" x2="2881.3" y2="83.0" stroke="#a040b0" stroke-width="3.4" stroke-linecap="round"/>
<circle cx="2819.5" cy="83.4" r="19" fill="#fff"/>
<circle cx="2819.5" cy="83.4" r="15.4" fill="url(#gg)"/>
<text x="2892.6" y="100.7" font-family='"Liberation Serif", serif' font-size="54.9" fill="#5cc432" text-anchor="start" font-weight="normal" >1100Oe</text>
<line x1="2758" y1="150.0" x2="2881.3" y2="150.0" stroke="#3355a8" stroke-width="3.4" stroke-linecap="round"/>
<circle cx="2819.5" cy="150.4" r="19" fill="#fff"/>
<circle cx="2819.5" cy="150.4" r="15.4" fill="url(#gr)"/>
<text x="2892.6" y="167.7" font-family='"Liberation Serif", serif' font-size="54.9" fill="#e21f2d" text-anchor="start" font-weight="normal" >2100Oe</text>
<line x1="2758" y1="217.0" x2="2881.3" y2="217.0" stroke="#e0202c" stroke-width="3.4" stroke-linecap="round"/>
<circle cx="2819.5" cy="217.4" r="19" fill="#fff"/>
<circle cx="2819.5" cy="217.4" r="15.4" fill="url(#gb)"/>
<text x="2892.6" y="234.7" font-family='"Liberation Serif", serif' font-size="54.9" fill="#3350b0" text-anchor="start" font-weight="normal" >3900Oe</text>
</svg>
</body></html>
